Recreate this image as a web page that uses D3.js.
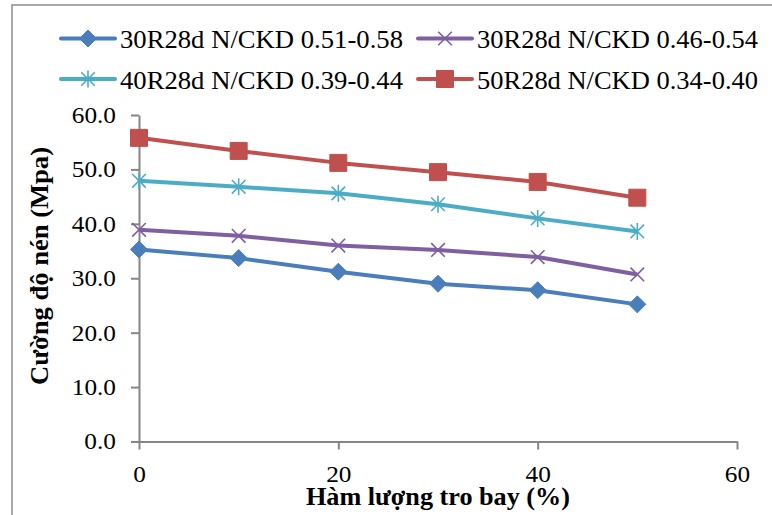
<!DOCTYPE html>
<html>
<head>
<meta charset="utf-8">
<script src="https://cdn.jsdelivr.net/npm/d3@7"></script>
<style>
  body { margin: 0; background: #fff; }
  text { font-family: "Liberation Serif", "Times New Roman", serif; fill: #000; }
</style>
</head>
<body>
<div id="chart"></div>
<script>
// data
var flyAsh = [0, 10, 20, 30, 40, 50];
var seriesNames = ["30R28d N/CKD 0.51-0.58", "30R28d N/CKD 0.46-0.54",
                   "40R28d N/CKD 0.39-0.44", "50R28d N/CKD 0.34-0.40"];
var s30a = [35.3, 33.7, 31.2, 29.0, 27.8, 25.2];
var s30b = [38.9, 37.8, 36.0, 35.2, 33.9, 30.7];
var s40 = [47.9, 46.8, 45.6, 43.6, 41.0, 38.6];
var s50 = [55.8, 53.4, 51.2, 49.5, 47.7, 44.8];
var yTicks = [0, 10, 20, 30, 40, 50, 60];
var xTicks = [0, 20, 40, 60];

var colors = ["#4a7ebb", "#7f5fa0", "#4bacc6", "#c0504d"];
var markers = ["diamond", "x", "star", "square"];
var allSeries = [s30a, s30b, s40, s50];

var w = 772, h = 515;

var svg = d3.select("#chart").append("svg")
  .attr("width", w)
  .attr("height", h);

// outer chart border
svg.append("rect")
  .attr("x", 12).attr("y", 5)
  .attr("width", 800).attr("height", 600)
  .attr("fill", "none")
  .attr("stroke", "#8c8c8c")
  .attr("stroke-width", 1.5);

var x = d3.scaleLinear().domain([0, 60]).range([139, 737]);
var y = d3.scaleLinear().domain([0, 60]).range([441.5, 115]);

//axes
svg.append("g")
  .attr("class", "yaxis")
  .attr("transform", "translate(" + x(0) + ",0)")
  .call(d3.axisLeft(y).tickValues(yTicks).tickFormat(d3.format(".1f"))
    .tickSize(8).tickSizeOuter(0).tickPadding(15));

svg.append("g")
  .attr("class", "xaxis")
  .attr("transform", "translate(0," + y(0) + ")")
  .call(d3.axisBottom(x).tickValues(xTicks).tickFormat(d3.format("d"))
    .tickSize(8).tickSizeOuter(0).tickPadding(16));

svg.selectAll(".domain, .tick line")
  .attr("stroke", "#868686")
  .attr("stroke-width", 2);
svg.selectAll(".tick text")
  .style("font-family", "'Liberation Serif', serif")
  .style("font-size", "23px")
  .attr("fill", "#000")
  .each(function() {
    // the reference type is a little wider than Times
    var len = this.getComputedTextLength();
    d3.select(this)
      .attr("textLength", len * 1.1)
      .attr("lengthAdjust", "spacingAndGlyphs");
  });

// marker paths
function markerPath(type, r) {
  if (type == "diamond") {
    return "M0," + (-r) + "L" + r + ",0L0," + r + "L" + (-r) + ",0Z";
  }
  if (type == "square") {
    return "M" + (-r) + "," + (-r) + "H" + r + "V" + r + "H" + (-r) + "Z";
  }
  var d = r * 0.8;
  var p = "M" + (-d) + "," + (-d) + "L" + d + "," + d + "M" + (-d) + "," + d + "L" + d + "," + (-d);
  if (type == "star") p += "M0," + (-r) + "L0," + r;
  return p;
}

function drawMarker(g, type, color) {
  var filled = (type == "diamond" || type == "square");
  g.append("path")
    .attr("d", markerPath(type, 8.5))
    .attr("fill", filled ? color : "none")
    .attr("stroke", color)
    .attr("stroke-width", filled ? 1 : 1.6);
}

var line = d3.line()
  .x(function(d, i) { return x(flyAsh[i]); })
  .y(function(d) { return y(d); });

allSeries.forEach(function(vals, k) {
  svg.append("path")
    .datum(vals)
    .attr("d", line)
    .attr("fill", "none")
    .attr("stroke", colors[k])
    .attr("stroke-width", 4)
    .attr("stroke-linejoin", "round");

  vals.forEach(function(v, i) {
    var g = svg.append("g")
      .attr("transform", "translate(" + x(flyAsh[i]) + "," + y(v) + ")");
    drawMarker(g, markers[k], colors[k]);
  });
});

// legend
var legendPos = [[61, 38.5], [418, 38.5], [61, 79], [418, 79]];
var legendLen = [283, 281, 283, 281];
seriesNames.forEach(function(name, k) {
  var lg = svg.append("g")
    .attr("transform", "translate(" + legendPos[k][0] + "," + legendPos[k][1] + ")");
  lg.append("line")
    .attr("x1", 0).attr("x2", 54)
    .attr("stroke", colors[k])
    .attr("stroke-width", 4)
    .attr("stroke-linecap", "round");
  var mg = lg.append("g").attr("transform", "translate(27,0)");
  drawMarker(mg, markers[k], colors[k]);
  lg.append("text")
    .attr("x", 59).attr("y", 9.5)
    .attr("textLength", legendLen[k])
    .attr("lengthAdjust", "spacingAndGlyphs")
    .style("font-size", "26px")
    .text(name);
});

// axis titles
svg.append("text")
  .attr("x", 438).attr("y", 504.5)
  .attr("text-anchor", "middle")
  .attr("textLength", 264)
  .attr("lengthAdjust", "spacingAndGlyphs")
  .style("font-size", "26px")
  .style("font-weight", "bold")
  .text("Hàm lượng tro bay (%)");

svg.append("text")
  .attr("transform", "translate(48,266) rotate(-90)")
  .attr("text-anchor", "middle")
  .attr("textLength", 238)
  .attr("lengthAdjust", "spacingAndGlyphs")
  .style("font-size", "26px")
  .style("font-weight", "bold")
  .text("Cường độ nén (Mpa)");
</script>
</body>
</html>
